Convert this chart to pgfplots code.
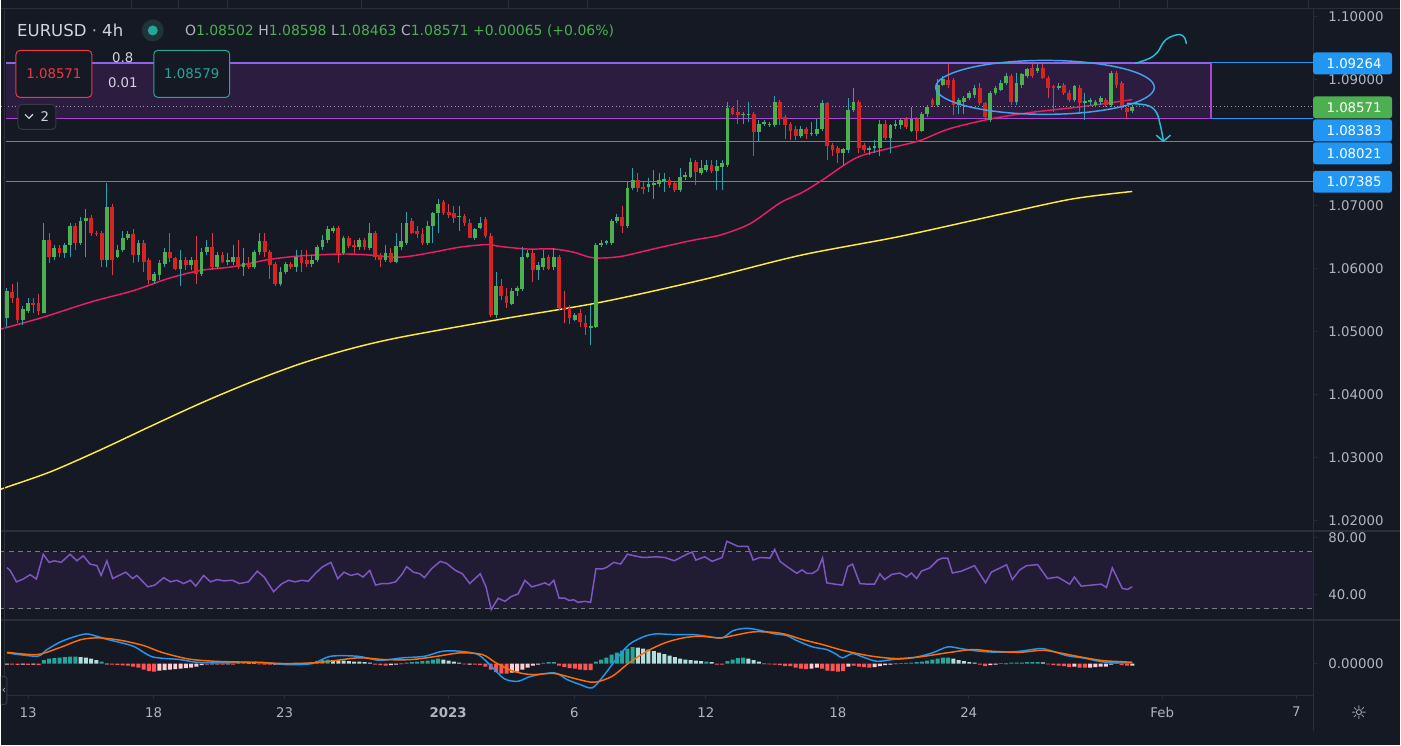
\documentclass[border=0pt]{standalone}
\usepackage{pgfplots}
\pgfplotsset{compat=1.18}
\usepackage{pgfplotstable}
\usepackage{fontspec}
\setmainfont{DejaVu Sans}
\definecolor{bg}{RGB}{21,25,36}
\definecolor{sepc}{RGB}{42,46,57}
\definecolor{lblc}{RGB}{178,181,190}
\definecolor{txtc}{RGB}{209,212,220}
\definecolor{upc}{RGB}{76,175,80}
\definecolor{dnc}{RGB}{214,36,36}
\definecolor{upw}{RGB}{48,160,172}
\definecolor{dnw}{RGB}{214,60,75}
\definecolor{boxfill}{RGB}{44,28,64}
\definecolor{boxtop}{RGB}{140,100,230}
\definecolor{boxbot}{RGB}{170,70,210}
\definecolor{lvl}{RGB}{33,150,243}
\definecolor{maR}{RGB}{233,30,99}
\definecolor{maY}{RGB}{255,235,59}
\definecolor{rsiC}{RGB}{126,87,194}
\definecolor{rsiBand}{RGB}{33,28,52}
\definecolor{dashC}{RGB}{120,123,134}
\definecolor{macdB}{RGB}{33,150,243}
\definecolor{macdO}{RGB}{255,109,0}
\definecolor{hT}{RGB}{38,166,154}
\definecolor{hTl}{RGB}{178,223,219}
\definecolor{hR}{RGB}{255,82,82}
\definecolor{hRl}{RGB}{255,205,210}
\definecolor{ellC}{RGB}{70,160,235}
\definecolor{arrC}{RGB}{38,190,210}
\definecolor{redtxt}{RGB}{242,54,69}
\definecolor{dotC}{RGB}{150,152,161}
\definecolor{chipB}{RGB}{54,58,69}
\definecolor{ringC}{RGB}{30,52,58}
\newcommand\fs{\fontsize{10}{12}\selectfont}

% ---------------- candles: i o h l c ----------------
\pgfplotstableread{
i o h l c
0 1.0521 1.0569 1.0507 1.0564
3 1.0519 1.0540 1.0510 1.0535
4 1.0532 1.0553 1.0529 1.0545
7 1.0530 1.0672 1.0529 1.0645
9 1.0618 1.0637 1.0613 1.0632
11 1.0624 1.0641 1.0616 1.0637
12 1.0637 1.0673 1.0618 1.0668
14 1.0640 1.0681 1.0637 1.0676
15 1.0675 1.0694 1.0618 1.0680
19 1.0613 1.0735 1.0602 1.0697
21 1.0619 1.0637 1.0616 1.0629
22 1.0629 1.0660 1.0626 1.0649
23 1.0648 1.0660 1.0645 1.0654
25 1.0621 1.0645 1.0610 1.0641
28 1.0580 1.0594 1.0575 1.0591
29 1.0589 1.0613 1.0581 1.0608
30 1.0607 1.0632 1.0603 1.0627
33 1.0600 1.0630 1.0573 1.0613
35 1.0605 1.0619 1.0597 1.0613
37 1.0591 1.0632 1.0588 1.0627
38 1.0626 1.0645 1.0622 1.0634
40 1.0603 1.0626 1.0600 1.0622
42 1.0611 1.0624 1.0605 1.0614
43 1.0611 1.0637 1.0605 1.0618
45 1.0602 1.0632 1.0588 1.0608
47 1.0603 1.0630 1.0600 1.0627
48 1.0626 1.0657 1.0622 1.0643
52 1.0576 1.0603 1.0573 1.0595
53 1.0595 1.0610 1.0592 1.0607
55 1.0603 1.0629 1.0594 1.0618
58 1.0607 1.0621 1.0602 1.0613
59 1.0613 1.0637 1.0610 1.0634
60 1.0634 1.0653 1.0629 1.0646
61 1.0645 1.0667 1.0641 1.0662
62 1.0660 1.0668 1.0657 1.0664
64 1.0624 1.0651 1.0621 1.0648
67 1.0634 1.0648 1.0629 1.0645
69 1.0632 1.0673 1.0629 1.0656
72 1.0614 1.0637 1.0610 1.0624
74 1.0611 1.0657 1.0608 1.0635
75 1.0634 1.0672 1.0630 1.0643
76 1.0641 1.0689 1.0638 1.0673
80 1.0641 1.0675 1.0638 1.0668
81 1.0667 1.0689 1.0641 1.0688
82 1.0688 1.0711 1.0657 1.0702
86 1.0681 1.0699 1.0660 1.0683
89 1.0649 1.0665 1.0646 1.0662
90 1.0665 1.0681 1.0662 1.0673
93 1.0526 1.0594 1.0521 1.0573
96 1.0543 1.0569 1.0542 1.0564
97 1.0564 1.0573 1.0557 1.0569
98 1.0567 1.0634 1.0564 1.0619
99 1.0619 1.0629 1.0616 1.0624
101 1.0597 1.0610 1.0581 1.0605
102 1.0602 1.0630 1.0597 1.0616
104 1.0602 1.0632 1.0597 1.0618
108 1.0519 1.0530 1.0516 1.0526
111 1.0505 1.0542 1.0478 1.0508
112 1.0507 1.0640 1.0505 1.0637
113 1.0637 1.0645 1.0634 1.0641
114 1.0640 1.0646 1.0637 1.0643
115 1.0641 1.0678 1.0638 1.0676
116 1.0675 1.0686 1.0673 1.0681
118 1.0667 1.0737 1.0664 1.0727
119 1.0727 1.0759 1.0724 1.0741
122 1.0729 1.0743 1.0721 1.0734
123 1.0732 1.0756 1.0711 1.0735
124 1.0734 1.0751 1.0730 1.0740
125 1.0738 1.0751 1.0721 1.0742
128 1.0724 1.0759 1.0721 1.0745
129 1.0745 1.0753 1.0740 1.0748
130 1.0746 1.0775 1.0743 1.0769
132 1.0751 1.0773 1.0748 1.0759
133 1.0756 1.0772 1.0753 1.0765
135 1.0754 1.0772 1.0724 1.0762
136 1.0761 1.0772 1.0724 1.0767
137 1.0765 1.0864 1.0761 1.0854
140 1.0843 1.0848 1.0830 1.0845
141 1.0843 1.0864 1.0832 1.0846
143 1.0816 1.0835 1.0800 1.0830
144 1.0830 1.0836 1.0826 1.0832
145 1.0827 1.0833 1.0824 1.0830
146 1.0827 1.0873 1.0824 1.0865
151 1.0810 1.0826 1.0807 1.0822
153 1.0813 1.0832 1.0810 1.0815
154 1.0813 1.0838 1.0810 1.0821
155 1.0821 1.0867 1.0818 1.0862
159 1.0784 1.0792 1.0764 1.0789
160 1.0788 1.0870 1.0784 1.0851
161 1.0851 1.0886 1.0848 1.0864
164 1.0788 1.0795 1.0780 1.0792
165 1.0791 1.0804 1.0784 1.0794
166 1.0791 1.0835 1.0778 1.0829
168 1.0807 1.0830 1.0783 1.0827
169 1.0826 1.0835 1.0822 1.0830
170 1.0827 1.0838 1.0822 1.0835
172 1.0819 1.0856 1.0816 1.0838
174 1.0819 1.0849 1.0816 1.0846
175 1.0845 1.0859 1.0841 1.0856
177 1.0859 1.0900 1.0856 1.0892
178 1.0892 1.0905 1.0889 1.0900
181 1.0859 1.0870 1.0846 1.0867
182 1.0865 1.0873 1.0846 1.0870
183 1.0870 1.0881 1.0867 1.0878
184 1.0875 1.0891 1.0871 1.0887
187 1.0835 1.0881 1.0832 1.0878
188 1.0878 1.0889 1.0875 1.0886
189 1.0884 1.0899 1.0881 1.0895
190 1.0894 1.0910 1.0891 1.0905
192 1.0864 1.0910 1.0860 1.0894
193 1.0891 1.0911 1.0887 1.0908
194 1.0906 1.0919 1.0903 1.0916
196 1.0914 1.0924 1.0911 1.0919
200 1.0886 1.0894 1.0883 1.0889
203 1.0867 1.0892 1.0864 1.0889
205 1.0862 1.0878 1.0835 1.0866
206 1.0864 1.0870 1.0860 1.0867
207 1.0860 1.0868 1.0857 1.0865
208 1.0864 1.0873 1.0860 1.0870
210 1.0859 1.0913 1.0856 1.0910
214 1.08502 1.08598 1.08463 1.08571
}\greenc

\pgfplotstableread{
i o h l c
1 1.0562 1.0576 1.0546 1.0553
2 1.0554 1.0578 1.0513 1.0519
5 1.0546 1.0553 1.0530 1.0542
6 1.0545 1.0559 1.0526 1.0532
8 1.0645 1.0657 1.0608 1.0618
10 1.0632 1.0638 1.0618 1.0624
13 1.0668 1.0673 1.0629 1.0640
16 1.0680 1.0685 1.0652 1.0656
17 1.0657 1.0660 1.0651 1.0654
18 1.0656 1.0660 1.0603 1.0613
20 1.0697 1.0703 1.0589 1.0613
24 1.0654 1.0662 1.0608 1.0621
26 1.0641 1.0645 1.0594 1.0611
27 1.0613 1.0616 1.0576 1.0581
31 1.0627 1.0657 1.0610 1.0616
32 1.0616 1.0619 1.0597 1.0600
34 1.0613 1.0618 1.0597 1.0605
36 1.0613 1.0651 1.0576 1.0592
39 1.0634 1.0657 1.0597 1.0603
41 1.0622 1.0626 1.0608 1.0611
44 1.0618 1.0645 1.0600 1.0602
46 1.0608 1.0618 1.0600 1.0603
49 1.0643 1.0657 1.0619 1.0626
50 1.0627 1.0630 1.0584 1.0605
51 1.0607 1.0610 1.0573 1.0576
54 1.0607 1.0610 1.0600 1.0603
56 1.0618 1.0630 1.0594 1.0608
57 1.0613 1.0629 1.0602 1.0607
63 1.0664 1.0668 1.0608 1.0624
65 1.0648 1.0652 1.0632 1.0635
66 1.0638 1.0645 1.0624 1.0634
68 1.0645 1.0648 1.0629 1.0634
70 1.0657 1.0660 1.0613 1.0619
71 1.0621 1.0624 1.0602 1.0613
73 1.0624 1.0632 1.0608 1.0610
77 1.0676 1.0680 1.0654 1.0657
78 1.0659 1.0668 1.0649 1.0654
79 1.0655 1.0664 1.0638 1.0641
83 1.0705 1.0708 1.0685 1.0688
84 1.0690 1.0702 1.0680 1.0685
85 1.0688 1.0700 1.0673 1.0680
87 1.0683 1.0686 1.0668 1.0672
88 1.0672 1.0678 1.0648 1.0649
91 1.0678 1.0681 1.0648 1.0651
92 1.0651 1.0657 1.0523 1.0526
94 1.0573 1.0584 1.0550 1.0556
95 1.0557 1.0569 1.0538 1.0545
100 1.0624 1.0629 1.0578 1.0597
103 1.0618 1.0621 1.0597 1.0600
105 1.0618 1.0621 1.0534 1.0538
106 1.0538 1.0565 1.0513 1.0534
107 1.0537 1.0542 1.0512 1.0521
109 1.0530 1.0535 1.0507 1.0515
110 1.0513 1.0527 1.0494 1.0507
117 1.0681 1.0699 1.0657 1.0667
120 1.0741 1.0752 1.0722 1.0727
121 1.0729 1.0737 1.0719 1.0726
126 1.0741 1.0745 1.0727 1.0732
127 1.0735 1.0738 1.0722 1.0724
131 1.0769 1.0772 1.0732 1.0753
134 1.0765 1.0773 1.0751 1.0754
138 1.0854 1.0857 1.0843 1.0846
139 1.0848 1.0867 1.0830 1.0843
142 1.0845 1.0848 1.0778 1.0816
147 1.0865 1.0868 1.0827 1.0838
148 1.0840 1.0843 1.0806 1.0827
149 1.0830 1.0833 1.0804 1.0819
150 1.0822 1.0826 1.0804 1.0810
152 1.0821 1.0824 1.0805 1.0813
156 1.0862 1.0865 1.0773 1.0794
157 1.0796 1.0799 1.0778 1.0788
158 1.0792 1.0795 1.0767 1.0784
162 1.0864 1.0867 1.0784 1.0792
163 1.0796 1.0799 1.0784 1.0788
167 1.0829 1.0835 1.0804 1.0807
171 1.0838 1.0841 1.0821 1.0824
173 1.0838 1.0841 1.0804 1.0819
176 1.0867 1.0870 1.0856 1.0859
179 1.0899 1.0924 1.0887 1.0891
180 1.0899 1.0902 1.0843 1.0859
185 1.0887 1.0895 1.0859 1.0862
186 1.0862 1.0865 1.0835 1.0840
191 1.0905 1.0908 1.0860 1.0864
195 1.0919 1.0925 1.0903 1.0906
197 1.0919 1.0925 1.0900 1.0903
198 1.0903 1.0906 1.0871 1.0887
199 1.0889 1.0892 1.0848 1.0886
201 1.0891 1.0894 1.0875 1.0878
202 1.0879 1.0883 1.0864 1.0867
204 1.0887 1.0891 1.0846 1.0862
209 1.0868 1.0871 1.0856 1.0859
211 1.0910 1.0913 1.0887 1.0891
212 1.0894 1.0897 1.0851 1.0854
213 1.0854 1.0857 1.0838 1.0849
}\redc

% ---------------- moving averages ----------------
\pgfplotstableread{
i p
-1.2 1.0504
-0.2 1.0506
7.0 1.0523
16.0 1.0547
24.1 1.0565
30.6 1.0584
36.8 1.0597
43.1 1.0603
49.6 1.0614
55.8 1.0620
63.4 1.0623
68.0 1.0622
74.8 1.0618
81.1 1.0626
86.2 1.0634
91.3 1.0638
93.8 1.0635
98.9 1.0631
103.9 1.0631
107.7 1.0626
111.5 1.0617
116.6 1.0619
122.9 1.0631
130.5 1.0645
135.6 1.0653
141.3 1.0671
147.0 1.0704
151.3 1.0721
155.0 1.0740
161.6 1.0776
168.4 1.0792
173.6 1.0803
179.3 1.0822
187.4 1.0838
195.0 1.0848
204.5 1.0857
214.0 1.0868
}\maRed

\pgfplotstableread{
i p
-1.2 1.02496
-0.19 1.02526
8.36 1.02777
17.85 1.03125
27.35 1.03498
36.84 1.03862
46.34 1.04195
55.83 1.04489
65.32 1.04726
74.82 1.04909
93.8 1.05194
112.8 1.05463
131.8 1.05812
150.8 1.06208
169.8 1.06509
188.8 1.06858
202.6 1.07104
214.0 1.07223
}\maYel

% ---------------- RSI ----------------
\pgfplotstableread{
i v
0 59
0.6 57
1.8 49
3.1 51
4.4 54
5.6 51
6.9 68.4
8.0 62.7
9.0 63.8
10.3 62.7
12.0 68.4
13.3 63.8
14.5 67.3
15.8 61.5
17.1 60.4
17.9 53.5
19.0 63.8
20.1 51.3
21.3 53.5
22.6 55.8
23.9 51.3
24.7 53.5
26.8 45.5
28.1 46.7
29.8 51.9
31.1 49
32.3 50.1
33.6 47.8
34.9 50.1
35.9 46
37.4 53.5
38.7 49
40.0 50.6
41.2 49.7
42.9 50.1
44.2 47.8
45.9 49
47.6 56.5
48.9 52.4
50.7 42.1
52.3 47.8
53.6 50.1
54.8 49
56.1 50.1
57.3 49.4
58.6 54.7
59.9 59.3
61.6 62.7
62.9 51.3
64.1 55.8
65.4 53.5
66.7 54.7
67.7 52.4
69.0 57
70.1 46.7
71.3 47.8
72.6 47.8
73.9 49
75.2 54.7
76.0 59.7
77.3 55.8
78.5 54.7
79.4 52
80.7 58.1
82.4 63.4
83.6 62
85.3 57
86.6 54.7
88.0 47.8
90.0 54.7
91.1 45.5
92.1 29.5
93.4 37.5
94.7 35.3
95.9 38.7
97.2 40.5
98.5 50.1
99.8 45.5
101.0 46.7
102.3 48.3
103.1 46.7
104.0 50.1
105.0 37.5
106.1 37.5
106.9 35.9
107.8 36.4
108.6 34.6
109.9 35.3
111.0 34.6
112.0 58.1
113.3 58.1
114.1 59.3
115.4 62.7
116.7 61.5
118.0 68.4
119.3 67.3
120.9 66.1
123.5 66.6
125.1 66.1
126.9 63.8
128.1 66.1
129.3 68.4
130.3 70
131.0 64.3
132.7 66.6
134.1 63.4
136.0 66.1
136.9 77.5
139.0 74
140.9 74
141.9 64.3
143.2 66.1
145.1 65.7
146.0 71.8
147.0 63.4
148.5 59.3
150.2 55
151.2 57.4
152.1 55
153.2 55
154.2 57.4
155.1 65.7
155.9 48.3
157.4 47.4
158.9 46.7
159.9 59.7
160.8 61.5
162.2 47.8
163.5 47.4
165.0 47.4
166.0 54.7
166.9 50.6
168.3 54.3
169.8 55.2
171.1 52.4
172.0 55.2
173.0 51.3
173.9 56.5
175.5 58.8
177.0 64.3
177.9 65.7
178.9 65.7
179.8 55.2
181.5 56.5
184.0 60.4
186.1 48.3
187.2 55.8
190.1 61
191.2 50.6
192.6 57.4
193.9 60.4
196.0 61.1
197.9 51.3
199.8 52.4
202.1 47.4
203.0 52.4
204.3 46
206.2 46.7
208.1 47.4
209.1 45
210.2 58.8
212.1 44.4
213.1 43.7
214.0 45.5
}\rsi

% ---------------- MACD ----------------
\pgfplotstableread{
i v
0 0.00107
5.7 0.00073
7.4 0.00133
9.9 0.0021
12.3 0.0026
15.0 0.00297
17.1 0.00273
19.2 0.0024
21.6 0.0021
24.3 0.00167
27.7 0.00067
32.9 0.0004
36.1 0.00013
41.2 0.00007
48.0 0.00013
53.2 -0.0001
58.1 0
61.5 0.00073
66.7 0.00073
70.8 0.00033
75.2 0.00057
79.4 0.00073
82.8 0.00123
86.2 0.00123
89.6 0.0009
92.1 -0.00027
94.6 -0.00153
97.2 -0.00177
99.7 -0.00127
104.1 -0.00093
106.5 -0.0016
109.0 -0.0021
111.3 -0.00243
113.4 -0.00127
115.8 0.0004
118.3 0.0019
121.0 0.00267
123.4 0.00297
126.9 0.0029
130.5 0.0029
133.1 0.00273
136.0 0.00257
138.1 0.0033
140.7 0.00353
143.2 0.00333
145.7 0.003
148.3 0.0028
150.2 0.0023
153.2 0.00167
155.9 0.0014
157.8 0.0009
158.9 0.00057
160.8 0.001
162.7 0.00067
165.4 0.00023
168.4 0.0004
172.2 0.00057
176.0 0.00107
178.9 0.00167
181.7 0.00147
185.0 0.00123
188.8 0.00113
192.6 0.00123
196.4 0.0015
198.3 0.00133
201.5 0.0008
204.5 0.00057
207.7 0.00023
210.2 0.00007
214.0 0.00007
}\macdline

\pgfplotstableread{
i v
0 0.00113
5.7 0.0009
9.9 0.00157
14.1 0.0024
17.5 0.00257
21.6 0.00233
26.0 0.0018
29.4 0.00113
34.4 0.00047
39.5 0.00023
46.3 0.00013
53.2 0
59.8 0.00013
66.7 0.00057
71.8 0.0004
76.9 0.0004
81.8 0.00073
86.2 0.00107
90.4 0.0009
93.0 0.00007
96.3 -0.00077
99.7 -0.0011
104.1 -0.001
108.2 -0.00153
111.7 -0.00187
115.1 -0.00127
118.3 0.00007
121.7 0.00123
125.1 0.00207
128.6 0.00257
131.8 0.00273
135.6 0.00257
138.1 0.0028
141.9 0.00317
145.7 0.00313
148.3 0.0029
151.3 0.0024
155.1 0.0019
158.9 0.00133
162.7 0.0009
165.4 0.00067
169.2 0.0005
173.6 0.00067
178.7 0.00107
183.6 0.0014
187.4 0.00123
192.6 0.00113
197.0 0.00133
200.2 0.00107
204.5 0.00063
208.3 0.0003
211.5 0.0002
214.0 0.00013
}\signal

\pgfplotstableread{
i v
7 0.00035
8 0.0005
9 0.00055
10 0.0006
11 0.00065
12 0.0007
13 0.0007
18 0.0002
44 0.00008
45 0.0001
56 0.00003
57 0.00005
58 0.00015
59 0.00025
60 0.00035
61 0.0004
76 0.0001
77 0.00015
78 0.0002
79 0.00025
80 0.0003
81 0.0004
82 0.0005
102 0.00008
103 0.00015
104 0.00015
112 0.0002
113 0.0004
114 0.0006
115 0.0009
116 0.0011
117 0.0013
118 0.0015
119 0.00165
133 0.0002
137 0.00025
138 0.0004
139 0.00055
140 0.0006
170 0.00005
171 0.00008
172 0.0001
173 0.00015
174 0.0002
175 0.0003
176 0.0004
177 0.0005
178 0.0006
179 0.0006
189 0.00005
191 0.0001
192 0.0001
193 0.0001
194 0.00015
195 0.00015
196 0.00015
211 0.00005
}\histT

\pgfplotstableread{
i v
14 0.00065
15 0.0006
16 0.0005
17 0.00035
46 0.00008
47 0.00005
62 0.00035
63 0.0003
64 0.0003
65 0.00025
66 0.0002
67 0.0002
68 0.00015
69 0.0001
83 0.0004
84 0.0003
85 0.0002
86 0.0001
120 0.0016
121 0.0015
122 0.0014
123 0.00125
124 0.0011
125 0.00095
126 0.0008
127 0.00065
128 0.0005
129 0.0004
130 0.00035
131 0.0003
132 0.00025
134 0.00015
141 0.0005
142 0.00035
143 0.0002
180 0.0005
181 0.00035
182 0.00025
183 0.00015
184 0.0001
197 0.00012
}\histTl

\pgfplotstableread{
i v
1 -0.0001
2 -0.00013
4 -0.00013
6 -0.00015
20 -0.0001
21 -0.00013
22 -0.00017
23 -0.0002
24 -0.0003
25 -0.0004
26 -0.0006
27 -0.00075
28 -0.0008
38 -0.0001
40 -0.0001
41 -0.0001
43 -0.0001
48 -0.00008
49 -0.0001
50 -0.0001
51 -0.00012
70 -0.0001
71 -0.00015
72 -0.0002
87 -0.00008
89 -0.0001
90 -0.00015
91 -0.0003
92 -0.0006
93 -0.00085
94 -0.001
95 -0.001
105 -0.0002
106 -0.00035
107 -0.00045
108 -0.0005
109 -0.0006
110 -0.00065
111 -0.00065
135 -0.0001
136 -0.0001
145 -0.00008
146 -0.0001
147 -0.00015
148 -0.00025
149 -0.00025
150 -0.0004
151 -0.0005
152 -0.00055
155 -0.0005
156 -0.0007
157 -0.00075
158 -0.0008
159 -0.00075
161 -0.0002
162 -0.0003
163 -0.00035
164 -0.0004
185 -0.0001
186 -0.00025
198 -0.00008
199 -0.00012
200 -0.0002
201 -0.00025
202 -0.00035
204 -0.0004
205 -0.0004
212 -0.00015
213 -0.0002
}\histR

\pgfplotstableread{
i v
0 -0.0001
3 -0.0001
5 -0.0001
19 -0.00008
29 -0.0007
30 -0.00065
31 -0.0006
32 -0.00055
33 -0.0005
34 -0.00045
35 -0.0004
36 -0.0003
37 -0.00015
39 -0.00008
42 -0.00008
52 -0.0001
53 -0.00008
54 -0.00005
55 -0.00003
73 -0.00015
74 -0.0001
75 -0.00005
88 -0.0001
96 -0.0009
97 -0.0008
98 -0.0006
99 -0.0004
100 -0.0002
101 -0.0001
144 -0.00005
153 -0.0005
154 -0.0004
160 -0.0003
165 -0.00035
166 -0.00025
167 -0.00015
168 -0.0001
169 -0.00005
187 -0.00015
188 -0.0001
190 -0.00005
203 -0.0003
206 -0.0004
207 -0.00035
208 -0.0003
209 -0.0003
210 -0.0001
214 -0.0002
}\histRl

\pgfplotsset{
  tvpanel/.style={scale only axis, width=985.5pt, xmin=-1.139, xmax=248.4,
    axis y line*=right, y axis line style={draw=none},
    tick align=outside, major tick length=3pt, scaled y ticks=false,
    ytick style={draw=sepc, line width=0.75pt},
    yticklabel style={font=\fs, text=lblc, anchor=west, xshift=5pt}},
  candlewick/.style={draw=none, mark=none, forget plot,
    error bars/.cd, y dir=plus, y explicit, error mark=none,
    error bar style={draw=#1, line width=0.75pt}},
  candlebody/.style={draw=none, mark=none, forget plot,
    error bars/.cd, y dir=plus, y explicit, error mark=none,
    error bar style={draw=#1, line width=2.8pt}},
  hbar/.style={ybar, bar width=3pt, bar shift=0pt, draw=none, fill=#1, forget plot},
}

\begin{document}
\begin{tikzpicture}[x=0.75pt,y=-0.75pt]
\fill[bg] (0,0) rectangle (1401,746);

% ================= PRICE PANEL =================
\begin{axis}[tvpanel, axis x line=none, at={(0pt,-397.5pt)}, anchor=south west, height=397.5pt,
  ymin=1.018542, ymax=1.102536,
  ytick={1.02,1.03,1.04,1.05,1.06,1.07,1.09,1.10},
  yticklabels={1.02000,1.03000,1.04000,1.05000,1.06000,1.07000,1.09000,1.10000}]
  \addplot[draw=none, fill=boxfill, forget plot] coordinates
    {(-0.19,1.08383) (229,1.08383) (229,1.09264) (-0.19,1.09264)} -- cycle;
  \addplot[boxtop, line width=1.1pt, forget plot] coordinates {(-0.19,1.09264) (229,1.09264)};
  \addplot[boxbot, line width=1.1pt, forget plot] coordinates {(-0.19,1.08383) (229,1.08383) (229,1.09264)};
  \addplot[lvl, line width=0.8pt, forget plot] coordinates {(229,1.09264) (248.4,1.09264)};
  \addplot[lvl, line width=0.8pt, forget plot] coordinates {(229,1.08383) (248.4,1.08383)};
  \addplot[lvl, line width=0.8pt, forget plot] coordinates {(-0.19,1.08021) (248.4,1.08021)};
  \addplot[lvl, line width=0.8pt, forget plot] coordinates {(-0.19,1.07385) (248.4,1.07385)};
  \addplot[dotC, line width=0.75pt, dash pattern=on 0.75pt off 2pt, forget plot] coordinates {(-1.2,1.08571) (248.4,1.08571)};
  \addplot[maY, line width=1.1pt, smooth, forget plot] table[x=i,y=p] {\maYel};
  \addplot[maR, line width=1.1pt, smooth, forget plot] table[x=i,y=p] {\maRed};
  \addplot[candlewick=upw] table[x=i, y=l, y error plus expr=\thisrow{h}-\thisrow{l}] {\greenc};
  \addplot[candlewick=dnw] table[x=i, y=l, y error plus expr=\thisrow{h}-\thisrow{l}] {\redc};
  \addplot[candlebody=upc] table[x=i, y=o, y error plus expr=\thisrow{c}-\thisrow{o}] {\greenc};
  \addplot[candlebody=dnc] table[x=i, y=c, y error plus expr=\thisrow{o}-\thisrow{c}] {\redc};
\end{axis}

% ================= RSI PANEL =================
\begin{axis}[tvpanel, axis x line=none, at={(0pt,-464.25pt)}, anchor=south west, height=65.25pt,
  ymin=23.16, ymax=84.21, ytick={40,80}, yticklabels={40.00,80.00}]
  \addplot[draw=none, fill=rsiBand, forget plot] coordinates
    {(-1.2,30) (248.4,30) (248.4,70) (-1.2,70)} -- cycle;
  \addplot[dashC, line width=0.75pt, dash pattern=on 3.5pt off 3pt, forget plot] coordinates {(-1.2,70) (248.4,70)};
  \addplot[dashC, line width=0.75pt, dash pattern=on 3.5pt off 3pt, forget plot] coordinates {(-1.2,30) (248.4,30)};
  \addplot[rsiC, line width=1.1pt, forget plot] table[x=i,y=v] {\rsi};
\end{axis}

% ================= MACD PANEL =================
\begin{axis}[tvpanel, at={(0pt,-521.25pt)}, anchor=south west, height=55.5pt,
  ymin=-0.0031, ymax=0.0043, ytick={0}, yticklabels={0.00000},
  axis x line*=bottom, x axis line style={draw=none},
  xtick={4,27.9,52.8,83.9,107.9,132.9,158,182.9,219.7,245.2},
  xticklabels={13,18,23,{\bfseries 2023},6,12,18,24,Feb,7},
  xtick style={draw=sepc, line width=0.75pt},
  xticklabel style={font=\fs, text=lblc, yshift=-3pt}]
  \addplot[hbar=hT] table[x=i,y=v] {\histT};
  \addplot[hbar=hTl] table[x=i,y=v] {\histTl};
  \addplot[hbar=hR] table[x=i,y=v] {\histR};
  \addplot[hbar=hRl] table[x=i,y=v] {\histRl};
  \addplot[macdB, line width=1.1pt, smooth, forget plot] table[x=i,y=v] {\macdline};
  \addplot[macdO, line width=1.1pt, smooth, forget plot] table[x=i,y=v] {\signal};
\end{axis}

% ================= frame / separators =================
\draw[sepc, line width=1.5pt] (0,531) -- (1401,531);
\draw[sepc, line width=1.5pt] (0,620) -- (1401,620);
\draw[sepc, line width=0.75pt] (0,695.5) -- (1314,695.5);
\draw[sepc, line width=0.75pt] (1314.5,8) -- (1314.5,732);
\draw[sepc, line width=0.75pt] (0,8) -- (1401,8);
\draw[sepc, line width=0.75pt] (4,8) -- (4,695);
\foreach \xx in {131,178,227,361,508,587,1120,1168,1309} \draw[sepc, line width=0.75pt] (\xx,0) -- (\xx,8);

% ================= hand drawing =================
\draw[ellC, line width=1.1pt] (1045.5,87) ellipse [x radius=82.1pt, y radius=20.25pt];
\draw[arrC, line width=1.1pt, line cap=round, line join=round] plot[smooth, tension=0.6] coordinates
  {(1136,63) (1150,58) (1158,52) (1164,42) (1170,37) (1180,34) (1185,37) (1187,43)};
\draw[arrC, line width=1.1pt, line cap=round, line join=round] plot[smooth, tension=0.6] coordinates
  {(1128,103) (1148,105) (1157,112) (1161,125) (1164,140)};
\draw[arrC, line width=1.1pt, line cap=round, line join=round] (1157,135) -- (1164,141) -- (1171,135);

% ================= price tags =================
\foreach \yc/\tt/\cc in {63/1.09264/lvl, 107/1.08571/upc, 130/1.08383/lvl, 153/1.08021/lvl, 181.5/1.07385/lvl}{
  \fill[\cc, rounded corners=2pt] (1314,{\yc-11}) rectangle (1393,{\yc+11});
  \node[font=\fs, text=white, inner sep=0] at (1355,\yc) {\tt};
}

% ================= header / legend =================
\node[anchor=west, inner sep=0, font=\fontsize{12.4}{14}\selectfont, text=txtc] at (16,30) {EURUSD {\color{lblc}·} 4h};
\fill[ringC] (152,30) circle [radius=8.25pt];
\fill[hT] (152,30) circle [radius=3.75pt];
\node[anchor=west, inner sep=0, font=\fontsize{10.5}{12}\selectfont] at (184,31)
  {\color{lblc}O\color{upc}1.08502 \color{lblc}H\color{upc}1.08598 \color{lblc}L\color{upc}1.08463 \color{lblc}C\color{upc}1.08571 +0.00065 (+0.06\%)};
\draw[redtxt, fill=bg, rounded corners=3pt, line width=0.75pt] (15,50) rectangle (91,97);
\node[font=\fs, text=redtxt, inner sep=0] at (53,73) {1.08571};
\node[font=\fs, text=txtc, inner sep=0] at (122,57) {0.8};
\node[font=\fs, text=txtc, inner sep=0] at (122,82) {0.01};
\draw[hT, fill=bg, rounded corners=3pt, line width=0.75pt] (153,50) rectangle (229,97);
\node[font=\fs, text=hT, inner sep=0] at (191,73) {1.08579};
\draw[chipB, fill=bg, rounded corners=3pt, line width=0.75pt] (17,104) rectangle (55,129);
\draw[txtc, line width=0.9pt] (24,114) -- (28,118) -- (32,114);
\node[font=\fs, text=txtc, inner sep=0] at (44,116.5) {2};

\node[font=\fontsize{14}{14}\selectfont, text=lblc, inner sep=0] at (1360,713) {☼};
\draw[chipB, fill=bg, line width=0.75pt, rounded corners=2pt] (0,677) -- (6,677) -- (6,705) -- (0,705);
\node[font=\fontsize{8}{8}\selectfont, text=lblc, inner sep=0] at (3,691) {‹};
\end{tikzpicture}
\end{document}
